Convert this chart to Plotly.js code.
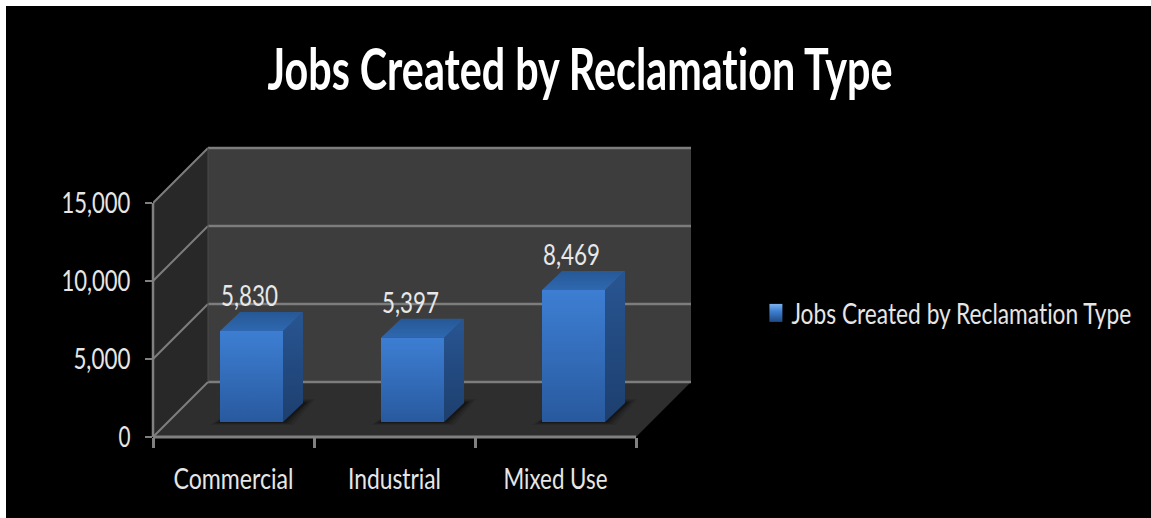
<!DOCTYPE html>
<html><head><meta charset="utf-8">
<script src="https://cdn.plot.ly/plotly-3.0.1.min.js"></script>
<style>html,body{margin:0;padding:0;background:#fff;overflow:hidden}#c{position:absolute;left:6px;top:6px;width:1145px;height:512px}svg text{font-variant-ligatures:none !important;font-feature-settings:"liga" 0,"clig" 0 !important}</style>
</head><body><div id="c"></div>
<script>
var categories = ["Commercial", "Industrial", "Mixed Use"];
var jobs = [5830, 5397, 8469];
var seriesName = "Jobs Created by Reclamation Type";
var chartTitle = "Jobs Created by Reclamation Type";
var yTicks = [0, 5000, 10000, 15000];
var yTickText = ["0", "5,000", "10,000", "15,000"];

var FONT = 'Lato,"Noto Sans",sans-serif';
var PX_X = 161, PX_Y = 0.0156;           // pixels per data unit
var wallDX = 55 / PX_X, wallDY = 55 / PX_Y; // depth of the box
var barDX = 20 / PX_X, barDY = 19 / PX_Y;   // depth of a bar
var shiftX = 18 / PX_X, baseY = 15 / PX_Y;  // position of a bar inside the box
var barW = 63 / PX_X;
var xMax = 3, yMax = 15000;

function poly(pts){return 'M' + pts.map(function(p){return p[0] + ',' + p[1];}).join('L') + 'Z';}
function fillShape(pts, color){return {type:'path', xref:'x', yref:'y', layer:'below', path:poly(pts), fillcolor:color, line:{width:0}};}
function lineShape(a, b, color, w){return {type:'line', xref:'x', yref:'y', layer:'below', x0:a[0], y0:a[1], x1:b[0], y1:b[1], line:{color:color, width:w}};}

var shapes = [
  fillShape([[wallDX,wallDY],[xMax+wallDX,wallDY],[xMax+wallDX,yMax+wallDY],[wallDX,yMax+wallDY]], '#3d3d3d'),
  fillShape([[0,0],[wallDX,wallDY],[wallDX,yMax+wallDY],[0,yMax]], '#282828'),
  fillShape([[0,0],[xMax,0],[xMax+wallDX,wallDY],[wallDX,wallDY]], '#2e2e2e')
];
yTicks.forEach(function(v){
  shapes.push(lineShape([wallDX,v+wallDY],[xMax+wallDX,v+wallDY],'#7d7d7d',2.5));
  shapes.push(lineShape([0,v],[wallDX,v+wallDY],'#7d7d7d',2));
});
shapes.push(lineShape([wallDX,0+wallDY],[wallDX,yMax+wallDY],'#4a4a4a',1));
// axis lines
shapes.push({type:'line', xref:'paper', yref:'y', layer:'above', x0:0, x1:0, y0:0, y1:yMax, line:{color:'#808080', width:2.5}});
shapes.push({type:'line', xref:'x', yref:'paper', layer:'above', x0:0, x1:xMax, y0:0, y1:0, line:{color:'#808080', width:3}});

var xs = categories.map(function(c,i){return i + 0.5 + shiftX;});
// bar shadows
xs.forEach(function(x){
  var l = x - barW/2, r = x + barW/2;
  [[10,0.1],[7,0.14],[4,0.2],[2,0.25]].forEach(function(s){
    var m = s[0]/PX_X, n = s[0]/PX_Y;
    shapes.push(fillShape([[l-m,baseY-n*0.3],[r+m,baseY-n*0.3],[r+barDX+m+2/PX_X,baseY+barDY+n*0.4],[l+barDX+m,baseY+barDY+n*0.4]],'rgba(0,0,0,'+s[1]+')'));
  });
});

var traces = [{
  type:'bar', name:seriesName, x:xs, y:jobs, base:jobs.map(function(){return baseY;}),
  width:barW, marker:{color:'#3470bf', line:{width:0}},
  hoverinfo:'skip', showlegend:true
}];
function face(pts, c0, c1, y0, y1){
  return {type:'scatter', mode:'lines', line:{width:0}, x:pts.map(function(p){return p[0];}), y:pts.map(function(p){return p[1];}),
    fill:'toself', fillcolor:c1, fillgradient:{type:'vertical', start:y0, stop:y1, colorscale:[[0,c0],[1,c1]]},
    hoverinfo:'skip', showlegend:false};
}
jobs.forEach(function(v,i){
  var x = xs[i], l = x-barW/2, r = x+barW/2, top = baseY+v;
  traces.push(face([[l,baseY],[r,baseY],[r,top],[l,top],[l,baseY]], 'rgba(30,70,130,0.55)', 'rgba(70,140,230,0.5)', baseY, top));
  traces.push(face([[r,baseY],[r+barDX,baseY+barDY],[r+barDX,top+barDY],[r,top],[r,baseY]], '#1d3f6e', '#285592', baseY, top+barDY));
  traces.push(face([[l,top],[r,top],[r+barDX,top+barDY],[l+barDX,top+barDY],[l,top]], '#2f68b0', '#265896', top, top+barDY));
});
traces.push({
  type:'scatter', mode:'text', x:xs.map(function(x){return x - 2/PX_X;}),
  y:jobs.map(function(v){return v + baseY + 32/PX_Y;}),
  text:jobs.map(function(v){return v.toLocaleString('en-US');}),
  textposition:'middle center', textfont:{family:FONT, size:28, color:'#e8e8e8'},
  hoverinfo:'skip', showlegend:false
});

var layout = {
  width:1145, height:512,
  paper_bgcolor:'#000', plot_bgcolor:'#000',
  margin:{l:147, r:458, t:140, b:81, pad:0},
  barmode:'overlay',
  title:{text:chartTitle, xref:'container', yref:'container', x:0.5013, xanchor:'center', y:0.875, yanchor:'middle', font:{family:FONT, size:58, weight:'bold', color:'#fff'}},
  xaxis:{range:[0,(693-153)/PX_X], type:'linear', tickmode:'array', tickvals:[0.5,1.5,2.5], ticktext:categories,
    ticks:'', showgrid:false, zeroline:false, showline:false, ticklabelstandoff:22,
    tickfont:{family:FONT, size:29, color:'#e6e6e6'},
    minor:{tickmode:'array', tickvals:[0,1,2,3], ticks:'outside', ticklen:10, tickwidth:3, tickcolor:'#808080', showgrid:false}},
  yaxis:{range:[0,(437-146)/PX_Y], tickmode:'array', tickvals:yTicks, ticktext:yTickText,
    ticks:'outside', ticklen:7, tickwidth:2, tickcolor:'#808080', showgrid:false, zeroline:false, showline:false, ticklabelstandoff:9,
    tickfont:{family:FONT, size:28, color:'#e6e6e6'}},
  legend:{xref:'container', yref:'container', x:0.658, y:0.4, xanchor:'left', yanchor:'middle', bgcolor:'rgba(0,0,0,0)',
    font:{family:FONT, size:28, color:'#e6e6e6'}, itemwidth:30, entrywidth:345, entrywidthmode:'pixels'},
  shapes:shapes, showlegend:true
};
// condensed lettering: horizontal widths of the reference's text
var textWidths = {};
textWidths[chartTitle] = 625;
textWidths['legend'] = 340;
textWidths['Commercial'] = 120; textWidths['Industrial'] = 93; textWidths['Mixed Use'] = 104;
textWidths['0'] = 12; textWidths['5,000'] = 57; textWidths['10,000'] = 69; textWidths['15,000'] = 69;
jobs.forEach(function(v){textWidths[v.toLocaleString('en-US')] = 57;});

Plotly.newPlot('c', traces, layout, {displayModeBar:false, responsive:false}).then(function(gd){
  gd.querySelectorAll('svg text').forEach(function(t){
    var inLegend = !!t.closest('.legend');
    var key = inLegend ? 'legend' : t.textContent;
    var w = textWidths[key];
    if(inLegend){
      var x0 = parseFloat(t.getAttribute('x')||0) - 8;
      t.setAttribute('x', x0);
      var k = w / t.getComputedTextLength();
      t.setAttribute('transform', 'translate(' + x0 + ',0) scale(' + k + ',1) translate(' + (-x0) + ',0)');
    } else if(w){
      t.setAttribute('textLength', w); t.setAttribute('lengthAdjust', 'spacingAndGlyphs');
    }
  });
  var svg = gd.querySelector('svg.main-svg');
  var NS = 'http://www.w3.org/2000/svg';
  var defs = document.createElementNS(NS,'defs');
  defs.innerHTML = '<linearGradient id="swatchGrad" x1="0" y1="0" x2="0" y2="1"><stop offset="0" stop-color="#7db2ee"/><stop offset="0.4" stop-color="#3f80d2"/><stop offset="1" stop-color="#1f4a85"/></linearGradient>';
  svg.appendChild(defs);
  gd.querySelectorAll('.legend .legendbar path, .legend .legendpoints path').forEach(function(p){
    p.setAttribute('d', 'M-6.5,-9H6.5V9H-6.5Z');
    p.setAttribute('transform', 'translate(16.5,0)');
    p.style.fill = 'url(#swatchGrad)';
  });
  gd.querySelectorAll('.legend .scrollbox, .legend').forEach(function(g){ g.removeAttribute('clip-path'); g.style.clipPath = 'none'; });
});
</script></body></html>
